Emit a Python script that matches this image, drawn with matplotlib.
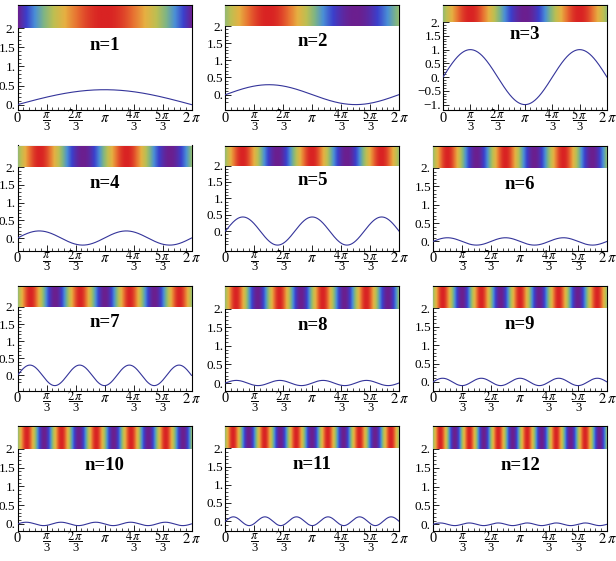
import numpy as np
import matplotlib
matplotlib.use('Agg')
import matplotlib.pyplot as plt
from matplotlib.colors import LinearSegmentedColormap
from matplotlib.transforms import Bbox, TransformedBbox, offset_copy

plt.rcParams['font.family'] = ['Liberation Serif', 'DejaVu Serif']
plt.rcParams['mathtext.fontset'] = 'stix'

# harmonic number and amplitude
harmonics = [1, 2, 3, 4, 5, 6, 7, 8, 9, 10, 11, 12]
amplitudes = [0.39, 0.29, 1.0, 0.2, 0.43, 0.1, 0.3, 0.07, 0.1, 0.045, 0.12, 0.035]

xtick_vals = [0, np.pi/3, 2*np.pi/3, np.pi, 4*np.pi/3, 5*np.pi/3, 2*np.pi]
# (numerator, denominator) of each x tick label; no denominator = plain label
xtick_num = ['0', r'$\pi$', r'$2\,\pi$', r'$\pi$', r'$4\,\pi$', r'$5\,\pi$', r'$2\,\pi$']
xtick_den = [None, '3', '3', None, '3', '3', None]

rainbow = LinearSegmentedColormap.from_list('mma_rainbow', [
    (0.0, '#6b1f8f'), (0.15, '#3b40cc'), (0.3, '#4a8fd6'), (0.45, '#7fb584'),
    (0.6, '#bdbf52'), (0.75, '#e6b042'), (0.87, '#e87432'), (1.0, '#d92323')])

W, H = 616, 561
fig = plt.figure(figsize=(W/100, H/100), dpi=100)

col_left = [17.5, 225.5, 433]
col_right = [191.5, 399, 607]
row_top = [5, 145.5, 286, 426]
ax_h = 105

x = np.linspace(0, 2*np.pi, 600)
strip_lo, strip_hi = 2.0, 2.57

for i, (n, amp) in enumerate(zip(harmonics, amplitudes)):
    r, c = divmod(i, 3)
    left = col_left[c]
    if n == 3:
        left = 443
    ax = fig.add_axes([left/W, 1 - (row_top[r] + ax_h)/H,
                       (col_right[c] - left)/W, ax_h/H])
    y = amp * np.sin(n * x / 2)
    ax.plot(x, y, color='#34349a', lw=0.8, zorder=3)

    # colour strip of the normalised mode shape
    z = (y - y.min()) / (y.max() - y.min())
    ax.imshow(z[None, :], cmap=rainbow, aspect='auto', interpolation='bilinear',
              extent=(0, 2*np.pi, strip_lo, strip_hi), zorder=4)

    ymin = y.min()
    span = strip_hi - ymin
    ax.set_ylim(ymin - 0.055*span, strip_hi + 0.015*span)
    ax.set_xlim(0, 2*np.pi)

    ax.text(np.pi, 1.55, 'n=%d' % n, ha='center', va='center',
            fontsize=13.5, fontweight='bold')

    yt = [v for v in [-1, -0.5, 0, 0.5, 1, 1.5, 2] if v >= ymin - 0.06]
    ylabs = [('%g' % v).replace('-', '\u2212') for v in yt]
    ylabs = [s if '.' in s else s + '.' for s in ylabs]
    ax.set_yticks(yt)
    ax.set_yticklabels(ylabs, fontsize=9.5)
    ax.set_yticks([v/10 for v in range(-12, 21) if v/10 >= ymin], minor=True)
    ax.set_xticks(xtick_vals)
    ax.set_xticklabels([])
    ax.set_xticks(np.arange(0, 2*np.pi + 1e-9, np.pi/15), minor=True)

    ax.tick_params(direction='in', length=4, width=0.6, top=False, right=False)
    ax.tick_params(which='minor', direction='in', length=2, width=0.5,
                   top=False, right=False)
    ax.tick_params(axis='y', pad=1.5)
    for sp in ax.spines.values():
        sp.set_linewidth(0.8)

    # stacked fraction labels under the x axis
    xt = ax.get_xaxis_transform()
    px_per_x = (col_right[c] - left) / (2*np.pi)
    for xv, num, den in zip(xtick_vals, xtick_num, xtick_den):
        if den is None:
            ax.text(xv, 0, num, transform=offset_copy(xt, fig, y=-8, units='dots'),
                    ha='center', va='center', fontsize=10.5, clip_on=False)
            continue
        ax.text(xv, 0, num, transform=offset_copy(xt, fig, y=-5, units='dots'),
                ha='center', va='center', fontsize=9, clip_on=False)
        ax.text(xv, 0, den, transform=offset_copy(xt, fig, y=-17, units='dots'),
                ha='center', va='center', fontsize=9, clip_on=False)
        hw = (6.5 if len(num) > 6 else 3.5) / px_per_x
        ax.plot([xv - hw, xv + hw], [0, 0], color='black', lw=0.7,
                transform=offset_copy(xt, fig, y=-10, units='dots'), clip_on=False)

    # labels are cut at the cell edge, as in the original grid
    cell = TransformedBbox(Bbox([[c/3, 0], [(c+1)/3, 1]]), fig.transFigure)
    for lab in ax.get_yticklabels():
        lab.set_clip_box(cell)
        lab.set_clip_on(True)

fig.savefig('out.png', dpi=100)
